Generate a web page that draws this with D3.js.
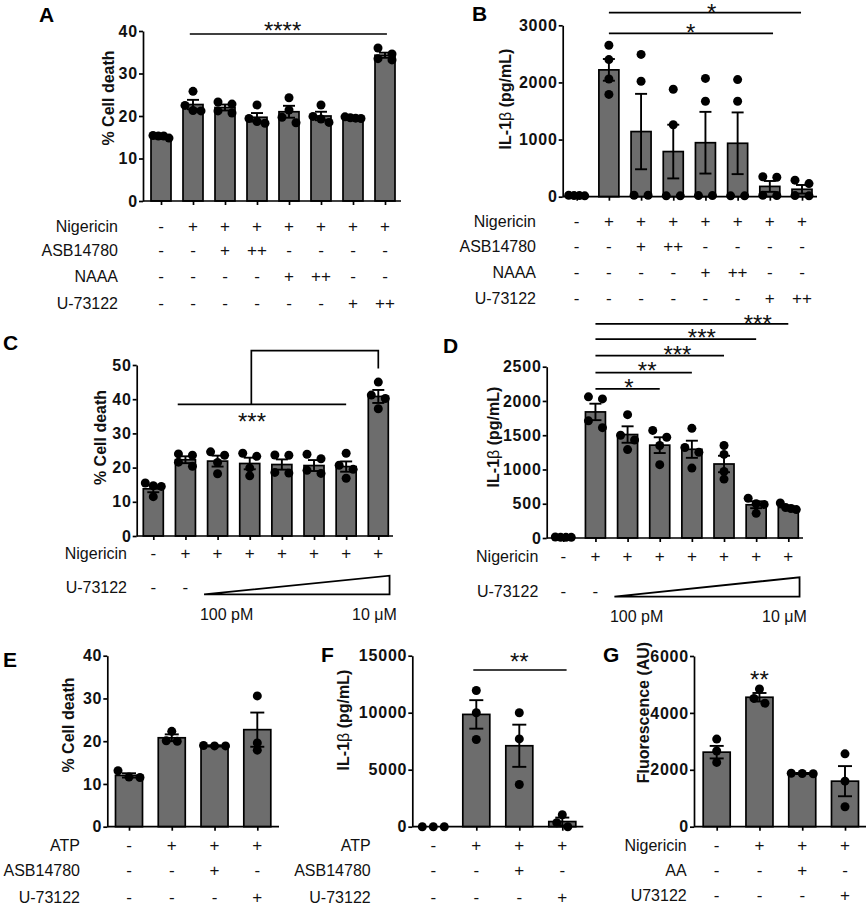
<!DOCTYPE html>
<html><head><meta charset="utf-8">
<script src="https://cdn.jsdelivr.net/npm/d3@7/dist/d3.min.js"></script>
<style>
html,body{margin:0;padding:0;background:#fff;}
svg{display:block;}
</style></head>
<body>
<svg id="chart" width="867" height="909"></svg>
<script>
// ---------------- DATA ----------------
// Panel A: % cell death
const aMeans = [15.2, 22.7, 22.0, 19.7, 21.0, 20.0, 19.5, 34.3];
const aSem   = [0.2, 1.1, 0.7, 1.0, 1.4, 1.0, 0.15, 0.6];
const aPoints = [[14.8,15.3,15.4,15.3],[25.8,22.5,21.3,21.2],[23.3,22.8,21.2,20.7],[22.6,19.4,18.7,18.3],
                 [24.3,21.4,19.7,18.4],[22.6,19.9,19.3,18.5],[19.8,19.6,19.5,19.4],[36.0,34.6,33.5,33.2]];
const aTicks = [0,10,20,30,40];
const aRowLabels = ["Nigericin","ASB14780","NAAA","U-73122"];
const aRowSigns = [["-","+","+","+","+","+","+","+"],["-","-","+","++","-","-","-","-"],
                   ["-","-","-","-","+","++","-","-"],["-","-","-","-","-","-","+","++"]];
// Panel B: IL-1β
const bMeans = [20, 2220, 1140, 790, 945, 935, 180, 130];
const bSem   = [3, 190, 660, 470, 540, 540, 95, 75];
const bPoints = [[25,20,15,20],[2650,2400,2060,1790],[2490,2020,25,25],[1880,1260,15,15],
                 [2070,1670,20,20],[2050,1670,15,15],[350,340,25,20],[290,230,20,15]];
const bTicks = [0,1000,2000,3000];
const bRowLabels = aRowLabels;
const bRowSigns = aRowSigns;
// Panel C: % cell death, U-73122 titration
const cMeans = [13.8, 22.3, 21.9, 21.2, 20.9, 20.6, 20.3, 40.8];
const cSem   = [1.0, 1.0, 1.6, 1.7, 1.5, 1.6, 1.5, 1.9];
const cPoints = [[15.5,14.7,14.5,11.5],[24.0,23.6,21.6,20.4],[24.6,23.6,21.5,18.2],[24.2,23.3,19.9,17.6],
                 [23.7,23.6,18.6,18.4],[23.9,22.6,19.2,18.3],[24.2,20.7,19.5,16.9],[45.0,41.2,40.2,37.2]];
const cTicks = [0,10,20,30,40,50];
const cRowLabels = ["Nigericin","U-73122"];
const cRowSigns = [["-","+","+","+","+","+","+","+"],["-","-","","","","","",""]];
const doseLabels = ["100 pM","10 μM"];
// Panel D: IL-1β, U-73122 titration
const dMeans = [10, 1840, 1510, 1355, 1295, 1080, 485, 445];
const dSem   = [3, 120, 120, 115, 125, 120, 50, 25];
const dPoints = [[15,10,10,10],[2060,2030,1710,1610],[1800,1500,1430,1290],[1570,1470,1350,1070],
                 [1600,1320,1250,1020],[1350,1220,970,860],[580,500,490,360],[510,445,430,415]];
const dTicks = [0,500,1000,1500,2000,2500];
const dRowLabels = cRowLabels;
const dRowSigns = cRowSigns;
// Panel E: % cell death, ATP
const eMeans = [12.0, 20.8, 18.9, 22.7];
const eSem   = [0.5, 0.8, 0.15, 4.0];
const ePoints = [[13.1,11.6,11.5],[22.3,20.1,20.0],[19.0,18.9,18.9],[30.6,19.6,17.9]];
const eTicks = [0,10,20,30,40];
const eRowLabels = ["ATP","ASB14780","U-73122"];
const eRowSigns = [["-","+","+","+"],["-","-","+","-"],["-","-","-","+"]];
// Panel F: IL-1β, ATP
const fMeans = [0, 9850, 7100, 450];
const fSem   = [0, 1250, 1850, 350];
const fPoints = [[0,0,0],[11950,10000,7650],[10000,7700,3700],[1050,350,0]];
const fTicks = [0,5000,10000,15000];
const fRowLabels = eRowLabels;
const fRowSigns = eRowSigns;
// Panel G: Fluorescence
const gMeans = [2620, 4550, 1870, 1600];
const gSem   = [220, 150, 20, 530];
const gPoints = [[3080,2660,2260],[4840,4510,4340],[1880,1870,1860],[2560,1600,700]];
const gTicks = [0,2000,4000,6000];
const gRowLabels = ["Nigericin","AA","U73122"];
const gRowSigns = [["-","+","+","+"],["-","-","+","-"],["-","-","-","+"]];

// ---------------- DRAWING ----------------
const FONT = "'Liberation Sans', Arial, Helvetica, sans-serif";
const svg = d3.select("#chart");
const BAR_FILL = "#6d6d6d";

function layoutDots(vals, y, maxStep, maxSpread) {
  const pts = vals.map(v => ({v, py: y(v)})).sort((a, b) => a.py - b.py);
  const clusters = [];
  pts.forEach(p => {
    const c = clusters[clusters.length - 1];
    if (c && p.py - c[0].py < 7) c.push(p); else clusters.push([p]);
  });
  clusters.forEach(c => {
    const k = c.length;
    const step = k > 1 ? Math.min(maxStep, maxSpread / (k - 1)) : 0;
    c.forEach((p, i) => p.dx = (i - (k - 1) / 2) * step);
  });
  return pts;
}

function drawPanel(cfg) {
  const g = svg.append("g");
  const n = cfg.means.length;
  const x = d3.scalePoint().domain(d3.range(n)).range(cfg.xRange);
  const xi = i => x(0) + i * x.step();
  const y = d3.scaleLinear().domain([0, cfg.yMax]).range([cfg.y0, cfg.yTop]);

  // bars
  g.selectAll("rect.bar").data(cfg.means).enter().append("rect")
    .attr("x", (d, i) => x(i) - cfg.barW / 2)
    .attr("y", d => y(d))
    .attr("width", cfg.barW)
    .attr("height", d => Math.max(0, y(0) - y(d)))
    .attr("fill", BAR_FILL).attr("stroke", "#000").attr("stroke-width", 1.7);

  // error bars
  cfg.means.forEach((m, i) => {
    const s = cfg.sem[i];
    if (!(s > 0)) return;
    const cx = x(i), hi = y(m + s), lo = y(Math.max(0, m - s));
    g.append("line").attr("x1", cx).attr("x2", cx).attr("y1", hi).attr("y2", lo)
      .attr("stroke", "#000").attr("stroke-width", 1.9);
    [hi, lo].forEach(yy => g.append("line").attr("x1", cx - cfg.capW / 2).attr("x2", cx + cfg.capW / 2)
      .attr("y1", yy).attr("y2", yy).attr("stroke", "#000").attr("stroke-width", 1.9));
  });

  // axes
  const ya = g.append("g").attr("transform", `translate(${cfg.axisX},0)`)
    .call(d3.axisLeft(y).tickValues(cfg.ticks).tickFormat(d3.format("d")).tickSize(4).tickPadding(1).tickSizeOuter(0));
  ya.select(".domain").attr("stroke", "#000").attr("stroke-width", 1.7);
  ya.selectAll(".tick line").attr("stroke", "#000").attr("stroke-width", 1.7);
  ya.selectAll(".tick text").attr("fill", "#111").style("font-family", FONT)
    .style("font-size", "16px").style("font-weight", "bold").style("letter-spacing", "0.8px");

  g.append("line").attr("x1", cfg.axisX).attr("x2", cfg.axisRight).attr("y1", cfg.y0).attr("y2", cfg.y0)
    .attr("stroke", "#000").attr("stroke-width", 1.7);
  const xa = g.append("g").attr("transform", `translate(0,${cfg.y0})`)
    .call(d3.axisBottom(x).tickSize(4).tickFormat(""));
  xa.select(".domain").remove();
  xa.selectAll(".tick line").attr("stroke", "#000").attr("stroke-width", 1.7);

  // points
  cfg.points.forEach((vals, i) => {
    const pts = layoutDots(vals, y, cfg.dotStep, cfg.dotSpread);
    g.selectAll(null).data(pts).enter().append("circle")
      .attr("cx", p => x(i) + p.dx).attr("cy", p => p.py).attr("r", 4.5).attr("fill", "#000");
  });

  // y label
  const yl = g.append("text")
    .attr("transform", `translate(${cfg.yLabelPos[0]},${cfg.yLabelPos[1]}) rotate(-90)`)
    .attr("text-anchor", "middle").attr("dy", "0.35em")
    .style("font-family", FONT).style("font-size", "16px").style("font-weight", "bold").attr("fill", "#111");
  cfg.yLabel.forEach(part => {
    yl.append("tspan").text(part.t).style("font-weight", part.w || "bold");
  });

  // panel letter
  g.append("text").attr("x", cfg.letterPos[0]).attr("y", cfg.letterPos[1]).text(cfg.letter)
    .style("font-family", FONT).style("font-size", "21px").style("font-weight", "bold").attr("fill", "#000");

  // rows
  cfg.rowLabels.forEach((lab, r) => {
    const by = cfg.rowBase[r];
    g.append("text").attr("x", cfg.rowRight).attr("y", by).attr("text-anchor", "end").text(lab)
      .style("font-family", FONT).style("font-size", "16px").attr("fill", "#111");
    cfg.rowSigns[r].forEach((s, i) => {
      if (!s) return;
      g.append("text").attr("x", x(i)).attr("y", by).attr("text-anchor", "middle").text(s)
        .style("font-family", FONT).style("font-size", "17px").attr("fill", "#111");
    });
  });

  // significance annotations
  (cfg.sig || []).forEach(sg => {
    if (sg.path) {
      const line = d3.line().x(p => xi(p[0])).y(p => y(p[1]));
      g.append("path").attr("d", line(sg.path)).attr("fill", "none").attr("stroke", "#000").attr("stroke-width", 1.7);
    }
    if (sg.label) {
      g.append("text").attr("x", xi(sg.lx)).attr("y", y(sg.ly) + 14).attr("text-anchor", "middle").text(sg.label)
        .style("font-family", FONT).style("font-size", "24px").attr("fill", "#111");
    }
  });

  // dose triangle
  if (cfg.triangle) {
    const t = cfg.triangle;
    const ty = d3.scaleLinear().domain([0, 1]).range([t.bottom, t.top]);
    const tri = d3.line().x(p => xi(p[0])).y(p => ty(p[1]));
    g.append("path").attr("d", tri([[t.from, 0], [t.to, 0], [t.to, 1]]) + "Z")
      .attr("fill", "none").attr("stroke", "#000").attr("stroke-width", 1.8).attr("stroke-linejoin", "miter");
    doseLabels.forEach((lab, k) => {
      g.append("text").attr("x", xi(t.labelX[k])).attr("y", t.labelY).attr("text-anchor", "middle").text(lab)
        .style("font-family", FONT).style("font-size", "16px").attr("fill", "#111");
    });
  }
}

const IL = [{t: "IL-1"}, {t: "β", w: "normal"}, {t: " (pg/mL)"}];

drawPanel({ means: aMeans, sem: aSem, points: aPoints, ticks: aTicks, yMax: 40,
  xRange: [161, 385], axisX: 143, axisRight: 401, y0: 201, yTop: 31, barW: 20, capW: 12,
  dotStep: 14, dotSpread: 16, yLabel: [{t: "% Cell death"}], yLabelPos: [108, 98],
  letter: "A", letterPos: [39, 22], rowLabels: aRowLabels, rowSigns: aRowSigns,
  rowBase: [231.5, 255.5, 281.5, 308.5], rowRight: 118,
  sig: [{path: [[0.9, 39.3], [7.06, 39.3]], label: "****", lx: 3.8, ly: 41.4}] });

drawPanel({ means: bMeans, sem: bSem, points: bPoints, ticks: bTicks, yMax: 3000,
  xRange: [576.7, 802], axisX: 562.7, axisRight: 817, y0: 196.7, yTop: 25.3, barW: 20, capW: 12,
  dotStep: 14, dotSpread: 16, yLabel: IL, yLabelPos: [505, 99],
  letter: "B", letterPos: [472, 21], rowLabels: bRowLabels, rowSigns: bRowSigns,
  rowBase: [226.5, 251.5, 277.5, 304], rowRight: 536,
  sig: [{path: [[1, 3221], [6.97, 3221]], label: "*", lx: 4.19, ly: 3320},
        {path: [[1, 2860], [6.1, 2860]], label: "*", lx: 3.54, ly: 2970}] });

drawPanel({ means: cMeans, sem: cSem, points: cPoints, ticks: cTicks, yMax: 50,
  xRange: [153.3, 378.3], axisX: 136.7, axisRight: 393, y0: 536, yTop: 365, barW: 20, capW: 12,
  dotStep: 14, dotSpread: 16, yLabel: [{t: "% Cell death"}], yLabelPos: [100, 437.5],
  letter: "C", letterPos: [3, 350], rowLabels: cRowLabels, rowSigns: cRowSigns,
  rowBase: [559.3, 593.3], rowRight: 127,
  sig: [{path: [[0.76, 38.5], [6.0, 38.5]]},
        {path: [[3.05, 38.5], [3.05, 54.2], [7.0, 54.2], [7.0, 49]]},
        {label: "***", lx: 3.07, ly: 35.1}],
  triangle: {from: 1.58, to: 7.35, bottom: 594.3, top: 575.7, labelX: [2.28, 6.88], labelY: 620} });

drawPanel({ means: dMeans, sem: dSem, points: dPoints, ticks: dTicks, yMax: 2500,
  xRange: [563.3, 788.3], axisX: 546.7, axisRight: 803, y0: 538, yTop: 366.7, barW: 20, capW: 12,
  dotStep: 14, dotSpread: 16, yLabel: IL, yLabelPos: [493, 437],
  letter: "D", letterPos: [443, 353], rowLabels: dRowLabels, rowSigns: dRowSigns,
  rowBase: [561.7, 596.7], rowRight: 538.3,
  sig: [{path: [[1, 2175], [3, 2175]], label: "*", lx: 2.04, ly: 2270},
        {path: [[1, 2413], [4, 2413]], label: "**", lx: 2.61, ly: 2530},
        {path: [[1, 2661], [5, 2661]], label: "***", lx: 3.55, ly: 2759},
        {path: [[1, 2901], [6, 2901]], label: "***", lx: 4.31, ly: 3000},
        {path: [[1, 3124], [7, 3124]], label: "***", lx: 6.05, ly: 3212}],
  triangle: {from: 1.59, to: 7.35, bottom: 596.7, top: 577.3, labelX: [2.28, 6.88], labelY: 622} });

drawPanel({ means: eMeans, sem: eSem, points: ePoints, ticks: eTicks, yMax: 40,
  xRange: [129, 257.3], axisX: 107.3, axisRight: 279, y0: 826.7, yTop: 655.7, barW: 27, capW: 14,
  dotStep: 11, dotSpread: 22, yLabel: [{t: "% Cell death"}], yLabelPos: [68, 725],
  letter: "E", letterPos: [3, 667], rowLabels: eRowLabels, rowSigns: eRowSigns,
  rowBase: [851, 876, 903], rowRight: 80 });

drawPanel({ means: fMeans, sem: fSem, points: fPoints, ticks: fTicks, yMax: 15000,
  xRange: [433.3, 562.3], axisX: 412.3, axisRight: 583.3, y0: 826.7, yTop: 655.7, barW: 27, capW: 14,
  dotStep: 11, dotSpread: 22, yLabel: IL, yLabelPos: [343, 720],
  letter: "F", letterPos: [321, 662], rowLabels: fRowLabels, rowSigns: fRowSigns,
  rowBase: [851, 876, 903], rowRight: 370.7,
  sig: [{path: [[0.93, 13746], [3.1, 13746]], label: "**", lx: 2.0, ly: 14974}] });

drawPanel({ means: gMeans, sem: gSem, points: gPoints, ticks: gTicks, yMax: 6000,
  xRange: [716.7, 845], axisX: 694, axisRight: 866, y0: 826.7, yTop: 656, barW: 27, capW: 14,
  dotStep: 11, dotSpread: 22, yLabel: [{t: "Fluorescence (AU)"}], yLabelPos: [643, 712.5],
  letter: "G", letterPos: [603, 662], rowLabels: gRowLabels, rowSigns: gRowSigns,
  rowBase: [851, 876, 901], rowRight: 686.7,
  sig: [{label: "**", lx: 1, ly: 5350}] });
</script>
</body></html>
